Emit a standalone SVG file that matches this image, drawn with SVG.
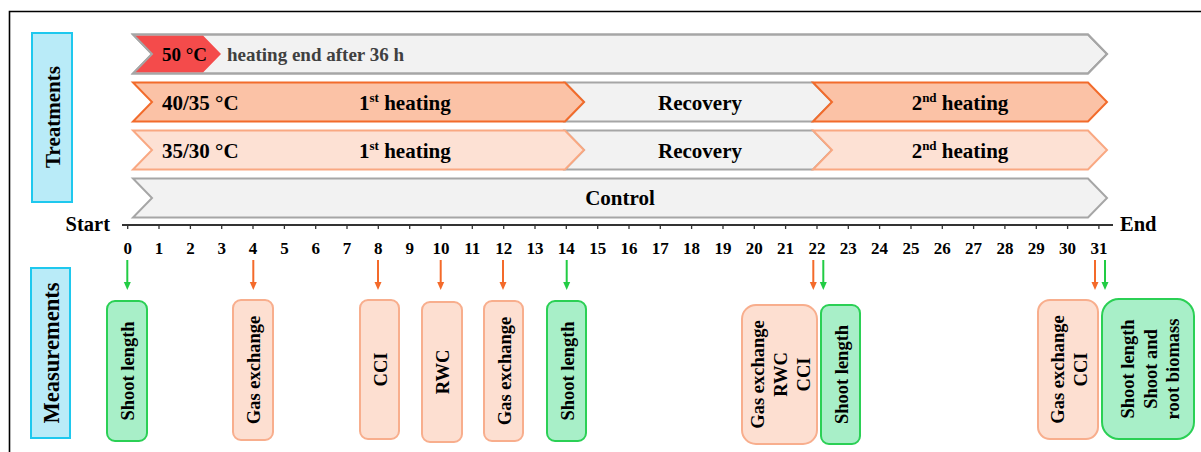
<svg xmlns="http://www.w3.org/2000/svg" width="1201" height="452" viewBox="0 0 1201 452">
<style>
.t{font-family:"Liberation Serif","Times New Roman",serif;font-weight:bold;fill:#000}
.lab{font-size:21px}
.num{font-size:17px;text-anchor:middle}
.mid{text-anchor:middle}
.m{font-size:18.5px;text-anchor:middle}
.gray{fill:#f2f2f2;stroke:#a6a6a6;stroke-width:2}
.grayline{fill:none;stroke:#a6a6a6;stroke-width:2}
.o1{fill:#fbc2a6;stroke:#f26b2b;stroke-width:2}
.o2{fill:#fde1d4;stroke:#f9a882;stroke-width:2}
.pk{fill:#fddfd1;stroke:#f8ae8d;stroke-width:2}
.gr{fill:#a8efc8;stroke:#2bd055;stroke-width:2}
.side{fill:#b9ebf8;stroke:#1ec8ee;stroke-width:2}
.ao{stroke:#f46a2a;stroke-width:2;fill:none}
.ag{stroke:#22cc44;stroke-width:2;fill:none}
</style>
<defs>
<marker id="hO" markerUnits="userSpaceOnUse" markerWidth="8" markerHeight="8" refX="0" refY="4" orient="auto"><path d="M0,0.5 L8,4 L0,7.5 Z" fill="#f46a2a"/></marker>
<marker id="hG" markerUnits="userSpaceOnUse" markerWidth="8" markerHeight="8" refX="0" refY="4" orient="auto"><path d="M0,0.5 L8,4 L0,7.5 Z" fill="#22cc44"/></marker>
</defs>
<rect width="1201" height="452" fill="#fff"/>
<path d="M1201 11.5 H9.5 V452" fill="none" stroke="#000" stroke-width="1.6"/>

<g id="treatments-label">
<rect class="side" x="32" y="33" width="40" height="169"/>
<text class="t mid" font-size="21" transform="translate(60,117) rotate(-90)">Treatments</text>
</g>
<g id="measurements-label">
<rect class="side" x="31" y="268" width="39" height="170"/>
<text class="t mid" font-size="22.5" transform="translate(59,353) rotate(-90)">Measurements</text>
</g>

<g id="row-50C">
<path class="gray" d="M133 34.5 H1088 L1107 54 L1088 73.5 H133 L152 54 Z"/>
<path d="M134 35.5 H203 L221 54 L203 72.5 H134 L152 54 Z" fill="#f44b4b"/>
<path class="grayline" d="M133 34.5 H1088 L1107 54 L1088 73.5 H133 L152 54 Z"/>
<text class="t" font-size="19" x="162" y="61">50 °C</text>
<text class="t" font-size="19" x="227" y="61" style="fill:#404040">heating end after 36 h</text>
</g>

<g id="row-40-35">
<path class="gray" d="M565 82.5 H813 L832 102 L813 121.5 H565 L584 102 Z"/>
<path class="o1" d="M133 82.5 H565 L584 102 L565 121.5 H133 L152 102 Z"/>
<path class="o1" d="M813 82.5 H1088 L1107 102 L1088 121.5 H813 L832 102 Z"/>
<text class="t lab" x="162" y="110">40/35 °C</text>
<text class="t lab" x="359" y="110">1<tspan font-size="13" dy="-8">st</tspan><tspan dy="8"> heating</tspan></text>
<text class="t lab mid" x="700" y="110">Recovery</text>
<text class="t lab mid" x="960" y="110">2<tspan font-size="13" dy="-8">nd</tspan><tspan dy="8"> heating</tspan></text>
</g>

<g id="row-35-30">
<path class="gray" d="M565 130.5 H813 L832 150 L813 169.5 H565 L584 150 Z"/>
<path class="o2" d="M133 130.5 H565 L584 150 L565 169.5 H133 L152 150 Z"/>
<path class="o2" d="M813 130.5 H1088 L1107 150 L1088 169.5 H813 L832 150 Z"/>
<text class="t lab" x="162" y="158">35/30 °C</text>
<text class="t lab" x="359" y="158">1<tspan font-size="13" dy="-8">st</tspan><tspan dy="8"> heating</tspan></text>
<text class="t lab mid" x="700" y="158">Recovery</text>
<text class="t lab mid" x="960" y="158">2<tspan font-size="13" dy="-8">nd</tspan><tspan dy="8"> heating</tspan></text>
</g>

<g id="row-control">
<path class="gray" d="M133 178.5 H1088 L1107 198 L1088 217.5 H133 L152 198 Z"/>
<text class="t lab mid" x="620" y="205">Control</text>
</g>

<g id="axis">
<path d="M122 225 H1113" stroke="#333" stroke-width="2" fill="none"/>
<path d="M127.7 225v4M159 225v4M190.4 225v4M221.7 225v4M253 225v4M284.4 225v4M315.7 225v4M347 225v4M378.3 225v4M409.7 225v4M441 225v4M472.3 225v4M503.7 225v4M535 225v4M566.3 225v4M597.7 225v4M629 225v4M660.3 225v4M691.6 225v4M723 225v4M754.3 225v4M785.6 225v4M817 225v4M848.3 225v4M879.6 225v4M911 225v4M942.3 225v4M973.6 225v4M1004.9 225v4M1036.3 225v4M1067.6 225v4M1098.9 225v4" stroke="#333" stroke-width="1.3" fill="none"/>
<text class="t" font-size="20.5" x="110" y="231" text-anchor="end">Start</text>
<text class="t" font-size="20.5" x="1120" y="231">End</text>
<g class="t num">
<text x="127.7" y="254">0</text><text x="159" y="254">1</text><text x="190.4" y="254">2</text><text x="221.7" y="254">3</text><text x="253" y="254">4</text><text x="284.4" y="254">5</text><text x="315.7" y="254">6</text><text x="347" y="254">7</text><text x="378.3" y="254">8</text><text x="409.7" y="254">9</text><text x="441" y="254">10</text><text x="472.3" y="254">11</text><text x="503.7" y="254">12</text><text x="535" y="254">13</text><text x="566.3" y="254">14</text><text x="597.7" y="254">15</text><text x="629" y="254">16</text><text x="660.3" y="254">17</text><text x="691.6" y="254">18</text><text x="723" y="254">19</text><text x="754.3" y="254">20</text><text x="785.6" y="254">21</text><text x="817" y="254">22</text><text x="848.3" y="254">23</text><text x="879.6" y="254">24</text><text x="911" y="254">25</text><text x="942.3" y="254">26</text><text x="973.6" y="254">27</text><text x="1004.9" y="254">28</text><text x="1036.3" y="254">29</text><text x="1067.6" y="254">30</text><text x="1098.9" y="254">31</text>
</g>
</g>

<g id="connectors">
<path class="ag" d="M127.3 260V282" marker-end="url(#hG)"/>
<path class="ao" d="M253.3 260V282" marker-end="url(#hO)"/>
<path class="ao" d="M378 260V282" marker-end="url(#hO)"/>
<path class="ao" d="M440.7 260V282" marker-end="url(#hO)"/>
<path class="ao" d="M503 260V282" marker-end="url(#hO)"/>
<path class="ag" d="M566.7 260V282" marker-end="url(#hG)"/>
<path class="ao" d="M813.3 260V282" marker-end="url(#hO)"/>
<path class="ag" d="M823.3 260V282" marker-end="url(#hG)"/>
<path class="ao" d="M1095 260V282" marker-end="url(#hO)"/>
<path class="ag" d="M1105 260V282" marker-end="url(#hG)"/>
</g>

<g id="m-day0"><rect class="gr" x="107" y="301" width="40" height="140" rx="8"/><text class="t m" transform="translate(134,371) rotate(-90)">Shoot length</text></g>
<g id="m-day4"><rect class="pk" x="233" y="300" width="40" height="140" rx="8"/><text class="t m" transform="translate(260,370) rotate(-90)">Gas exchange</text></g>
<g id="m-day8"><rect class="pk" x="360" y="300" width="39" height="139" rx="8"/><text class="t m" transform="translate(386.5,369.5) rotate(-90)">CCI</text></g>
<g id="m-day10"><rect class="pk" x="422" y="302" width="40" height="140" rx="8"/><text class="t m" transform="translate(449,372) rotate(-90)">RWC</text></g>
<g id="m-day12"><rect class="pk" x="484" y="301" width="39" height="140" rx="8"/><text class="t m" transform="translate(510.5,371) rotate(-90)">Gas exchange</text></g>
<g id="m-day14"><rect class="gr" x="547" y="301" width="39" height="140" rx="8"/><text class="t m" transform="translate(573.5,371) rotate(-90)">Shoot length</text></g>
<g id="m-day22a"><rect class="pk" x="742" y="305" width="75" height="139" rx="14"/>
<text class="t m" transform="translate(763.5,374.5) rotate(-90)">Gas exchange</text>
<text class="t m" transform="translate(786.7,374.5) rotate(-90)">RWC</text>
<text class="t m" transform="translate(810,374.5) rotate(-90)">CCI</text></g>
<g id="m-day22b"><rect class="gr" x="821" y="305" width="39" height="139" rx="8"/><text class="t m" transform="translate(847.5,374.5) rotate(-90)">Shoot length</text></g>
<g id="m-day31a"><rect class="pk" x="1038" y="300" width="60" height="139" rx="12"/>
<text class="t m" transform="translate(1063.5,369.5) rotate(-90)">Gas exchange</text>
<text class="t m" transform="translate(1086.7,369.5) rotate(-90)">CCI</text></g>
<g id="m-day31b"><rect class="gr" x="1102" y="299" width="92" height="140" rx="17"/>
<text class="t m" transform="translate(1134,369) rotate(-90)">Shoot length</text>
<text class="t m" transform="translate(1156.7,369) rotate(-90)">Shoot and</text>
<text class="t m" transform="translate(1179.3,369) rotate(-90)">root biomass</text></g>
</svg>
